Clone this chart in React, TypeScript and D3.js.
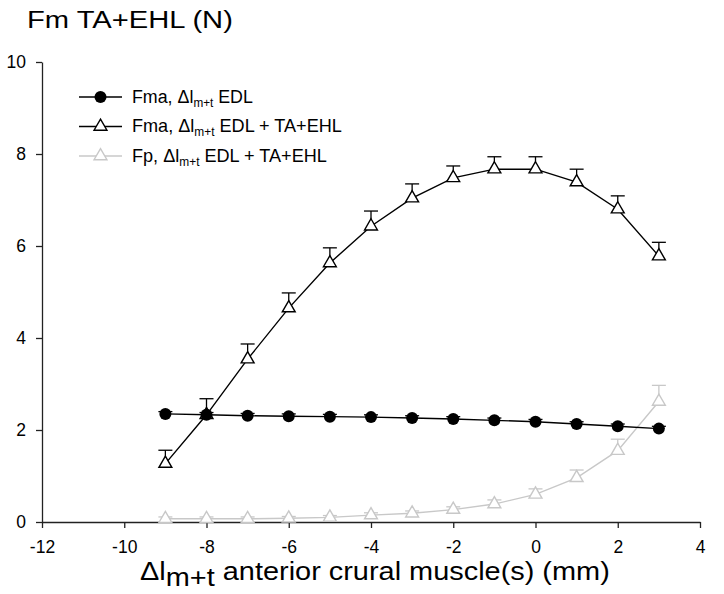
import React, { useEffect, useRef } from "react";
import * as d3 from "d3";

const W = 724;
const H = 594;
const margin = { left: 42, right: 24, top: 62, bottom: 72 };

// x positions (mm)
const xs = [-9, -8, -7, -6, -5, -4, -3, -2, -1, 0, 1, 2, 3];

// Fma, Δl EDL (filled circles)
const fmaEdl = [2.35, 2.33, 2.31, 2.3, 2.29, 2.28, 2.26, 2.24, 2.21, 2.18, 2.13, 2.08, 2.03];
const fmaEdlErr = [0.05, 0.05, 0.05, 0.05, 0.05, 0.05, 0.05, 0.05, 0.05, 0.05, 0.05, 0.05, 0.05];

// Fma, Δl EDL + TA+EHL (open triangles, black)
const fmaAll = [1.27, 2.33, 3.54, 4.65, 5.63, 6.43, 7.04, 7.48, 7.67, 7.67, 7.39, 6.8, 5.78];
const fmaAllErr = [0.29, 0.35, 0.33, 0.33, 0.33, 0.33, 0.31, 0.26, 0.27, 0.27, 0.28, 0.29, 0.3];

// Fp, Δl EDL + TA+EHL (open triangles, grey)
const fpAll = [0.07, 0.07, 0.07, 0.08, 0.1, 0.15, 0.19, 0.27, 0.39, 0.6, 0.96, 1.55, 2.62];
const fpAllErr = [0.04, 0.04, 0.04, 0.04, 0.04, 0.05, 0.05, 0.06, 0.09, 0.12, 0.17, 0.25, 0.35];

const xTicks = [-12, -10, -8, -6, -4, -2, 0, 2, 4];
const yTicks = [0, 2, 4, 6, 8, 10];

const GREY = "#c8c8c8";
const FONT = "'Liberation Sans', Arial, sans-serif";

const series = [
  { name: "Fma, ", tail: " EDL", values: fmaEdl, err: fmaEdlErr, color: "#000", marker: "circle" },
  { name: "Fma, ", tail: " EDL + TA+EHL", values: fmaAll, err: fmaAllErr, color: "#000", marker: "triangle" },
  { name: "Fp, ", tail: " EDL + TA+EHL", values: fpAll, err: fpAllErr, color: GREY, marker: "triangle" }
];

// stretch a text horizontally so it spans the given width (the original glyphs are wide)
function fitWidth(t: any, x0: number, width: number) {
  const len = t.node().getComputedTextLength();
  if (!len) return;
  const k = width / len;
  t.attr("transform", `translate(${x0},0) scale(${k},1) translate(${-x0},0)`);
}

export default function App() {
  const ref = useRef<SVGSVGElement>(null);

  useEffect(() => {
    const svg = d3.select(ref.current);
    svg.selectAll("*").remove();

    const x = d3.scaleLinear().domain([-12, 4]).range([margin.left, W - margin.right]);
    const y = d3.scaleLinear().domain([0, 10]).range([H - margin.bottom, margin.top]);

    // axes
    const xAxis = svg
      .append("g")
      .attr("transform", `translate(0, ${y(0)})`)
      .call(
        d3.axisBottom(x).tickValues(xTicks).tickFormat(d => String(d))
          .tickSize(6).tickSizeOuter(0).tickPadding(13)
      );
    const yAxis = svg
      .append("g")
      .attr("transform", `translate(${x(-12)}, 0)`)
      .call(
        d3.axisLeft(y).tickValues(yTicks).tickFormat(d => String(d))
          .tickSize(6).tickSizeOuter(0).tickPadding(10)
      );
    [xAxis, yAxis].forEach(a => {
      a.selectAll("path, line").attr("stroke", "#222").attr("stroke-width", 1.3);
      a.selectAll("text").attr("font-family", FONT).attr("font-size", 17.5).attr("fill", "#000");
    });

    const tri = d3.symbol().type(d3.symbolTriangle).size(72);
    const line = d3
      .line<number>()
      .x((_, i) => x(xs[i]))
      .y(d => y(d));

    // draw grey first, then black series on top
    [series[2], series[1], series[0]].forEach(s => {
      const g = svg.append("g");
      g.append("path")
        .attr("d", line(s.values))
        .attr("fill", "none")
        .attr("stroke", s.color)
        .attr("stroke-width", 1.4);

      // upper error bars
      s.values.forEach((v, i) => {
        const cx = x(xs[i]);
        g.append("line")
          .attr("x1", cx).attr("x2", cx)
          .attr("y1", y(v)).attr("y2", y(v + s.err[i]))
          .attr("stroke", s.color).attr("stroke-width", 1.3);
        g.append("line")
          .attr("x1", cx - 7).attr("x2", cx + 7)
          .attr("y1", y(v + s.err[i])).attr("y2", y(v + s.err[i]))
          .attr("stroke", s.color).attr("stroke-width", 1.3);
      });

      s.values.forEach((v, i) => {
        if (s.marker === "circle") {
          g.append("circle")
            .attr("cx", x(xs[i])).attr("cy", y(v)).attr("r", 6)
            .attr("fill", "#000");
        } else {
          g.append("path")
            .attr("d", tri())
            .attr("transform", `translate(${x(xs[i])}, ${y(v)})`)
            .attr("fill", "#fff")
            .attr("stroke", s.color)
            .attr("stroke-width", 1.4);
        }
      });
    });

    // legend
    const legendWidths = [121, 210, 195];
    series.forEach((s, i) => {
      const base = 103 + i * 29.5;
      const row = svg.append("g");
      row.append("line")
        .attr("x1", 79).attr("x2", 122).attr("y1", base - 6).attr("y2", base - 6)
        .attr("stroke", s.color).attr("stroke-width", 1.4);
      if (s.marker === "circle") {
        row.append("circle").attr("cx", 100.5).attr("cy", base - 6).attr("r", 6).attr("fill", "#000");
      } else {
        row.append("path")
          .attr("d", tri())
          .attr("transform", `translate(100.5, ${base - 6})`)
          .attr("fill", "#fff").attr("stroke", s.color).attr("stroke-width", 1.4);
      }
      const t = row.append("text")
        .attr("x", 132).attr("y", base)
        .attr("font-family", FONT).attr("font-size", 19).attr("fill", "#000");
      t.append("tspan").text(s.name + "Δl");
      t.append("tspan").attr("font-size", 12.5).attr("dy", 4).text("m+t");
      t.append("tspan").attr("dy", -4).text(s.tail);
      fitWidth(t, 132, legendWidths[i]);
    });

    // titles
    const title = svg.append("text")
      .attr("x", 27).attr("y", 28)
      .attr("font-family", FONT).attr("font-size", 24).attr("fill", "#000")
      .text("Fm TA+EHL (N)");
    fitWidth(title, 27, 206);

    const xl = svg.append("text")
      .attr("x", 140).attr("y", 580)
      .attr("font-family", FONT).attr("font-size", 25).attr("fill", "#000");
    xl.append("tspan").text("Δl");
    xl.append("tspan").attr("dy", 6).text("m+t");
    xl.append("tspan").attr("dy", -6).text(" anterior crural muscle(s) (mm)");
    fitWidth(xl, 140, 470);
  }, []);

  return (
    <div style={{ position: "absolute", left: 0, top: 0 }}>
      <svg ref={ref} width={W} height={H} style={{ display: "block", background: "#fff" }} />
    </div>
  );
}
